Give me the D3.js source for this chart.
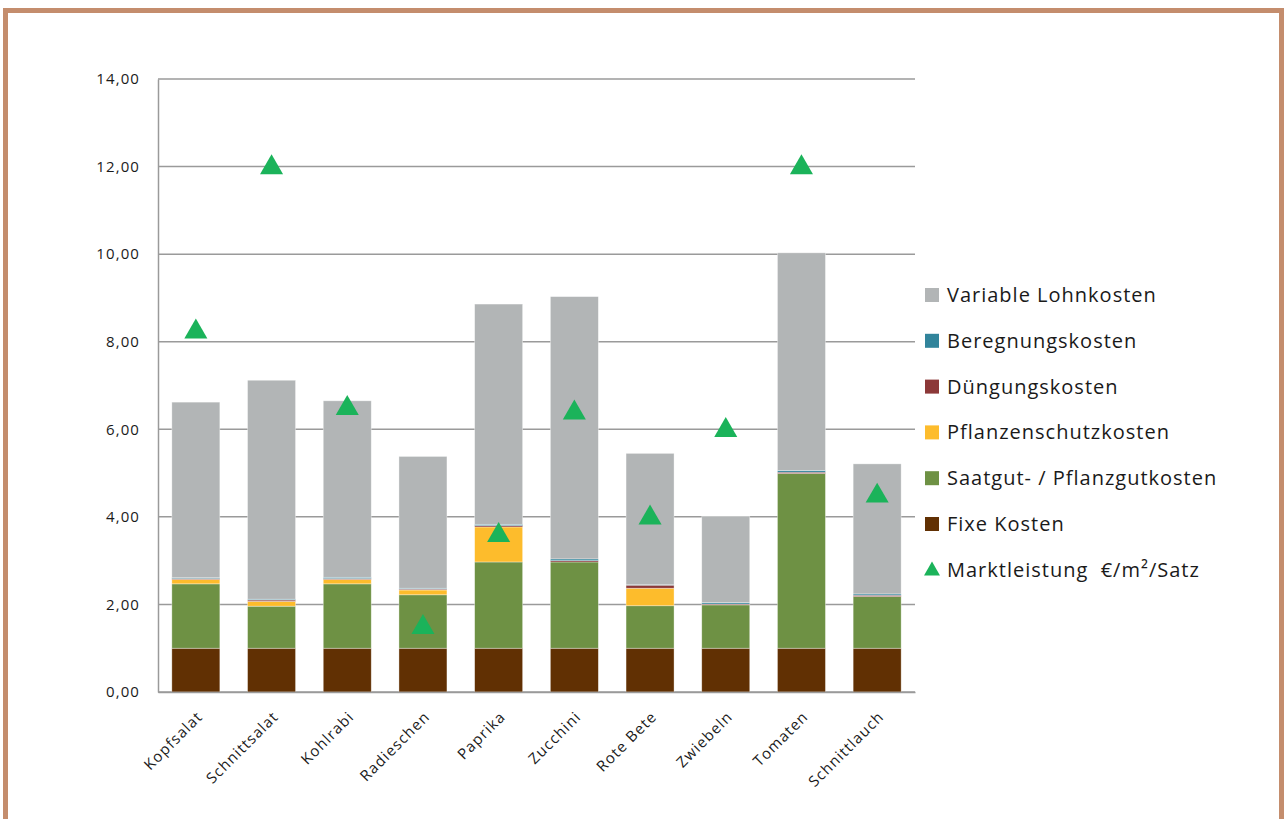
<!DOCTYPE html>
<html>
<head>
<meta charset="utf-8">
<script src="https://cdn.jsdelivr.net/npm/d3@7"></script>
<style>
  body { margin: 0; background: #fff; }
  text { font-family: "Open Sans", sans-serif; fill: #1a1a1a; }
</style>
</head>
<body>
<script>
'use strict';

var categories = ["Kopfsalat", "Schnittsalat", "Kohlrabi", "Radieschen", "Paprika",
    "Zucchini", "Rote Bete", "Zwiebeln", "Tomaten", "Schnittlauch"];

var fixeKosten      = [1.00, 1.00, 1.00, 1.00, 1.00, 1.00, 1.00, 1.00, 1.00, 1.00];
var saatgutKosten   = [1.47, 0.96, 1.47, 1.22, 1.97, 1.97, 0.97, 0.99, 3.99, 1.18];
var schutzKosten    = [0.10, 0.11, 0.10, 0.11, 0.80, 0.00, 0.40, 0.00, 0.00, 0.00];
var duengungKosten  = [0.02, 0.03, 0.02, 0.02, 0.03, 0.03, 0.07, 0.02, 0.03, 0.03];
var beregnungKosten = [0.02, 0.02, 0.03, 0.02, 0.03, 0.04, 0.01, 0.03, 0.04, 0.03];
var lohnKosten      = [4.01, 5.00, 4.03, 3.01, 5.03, 5.99, 3.00, 1.97, 4.97, 2.97];
var marktleistung   = [8.25, 12.0, 6.50, 1.50, 3.60, 6.40, 4.00, 6.00, 12.0, 4.50];

var yTicks = [0, 2, 4, 6, 8, 10, 12, 14];

// stack order bottom -> top
var series = [
    { name: "Fixe Kosten", values: fixeKosten, color: "#613003" },
    { name: "Saatgut- / Pflanzgutkosten", values: saatgutKosten, color: "#6e9144" },
    { name: "Pflanzenschutzkosten", values: schutzKosten, color: "#fdbc2c" },
    { name: "Düngungskosten", values: duengungKosten, color: "#8c3838" },
    { name: "Beregnungskosten", values: beregnungKosten, color: "#31849b" },
    { name: "Variable Lohnkosten", values: lohnKosten, color: "#b2b5b6" }
];
var marktName = "Marktleistung  €/m²/Satz";
var marktColor = "#1bb35a";

var width = 1285, height = 819;
var plot = { left: 158, right: 915, top: 79, bottom: 692 };

var svg = d3.select("body").append("svg")
    .attr("width", width)
    .attr("height", height);

// frame
svg.append("rect")
    .attr("x", 5.5).attr("y", 10.5)
    .attr("width", 1276).attr("height", 830)
    .attr("fill", "none")
    .attr("stroke", "#c48d6d")
    .attr("stroke-width", 5);

var de = d3.formatLocale({ decimal: ",", thousands: ".", grouping: [3], currency: ["", "€"] });
var fmt = de.format(".2f");

var x = d3.scaleBand()
    .domain(categories)
    .range([plot.left, plot.right])
    .paddingInner(0.366)
    .paddingOuter(0.183);

var y = d3.scaleLinear()
    .domain([0, 14])
    .range([plot.bottom, plot.top]);

// gridlines
svg.append("g")
    .selectAll("line")
    .data(yTicks)
    .join("line")
    .attr("x1", plot.left).attr("x2", plot.right)
    .attr("y1", d => y(d)).attr("y2", d => y(d))
    .attr("stroke", "#9a9a9a")
    .attr("stroke-width", 1.5);

var yAxis = d3.axisLeft(y)
    .tickValues(yTicks)
    .tickSize(0)
    .tickPadding(18)
    .tickFormat(fmt);

var yAxisGroup = svg.append("g")
    .attr("transform", "translate(" + plot.left + ",0)")
    .call(yAxis);
yAxisGroup.select(".domain").attr("stroke", "#9a9a9a").attr("stroke-width", 1.5);
yAxisGroup.selectAll("text")
    .style("font-family", "'Open Sans', sans-serif")
    .style("font-size", "15px")
    .style("letter-spacing", "1.1px")
    .attr("fill", "#1a1a1a");

// stacked bars
var rows = categories.map(function (c, i) {
    var r = { cat: c };
    series.forEach(function (s) { r[s.name] = s.values[i]; });
    return r;
});
var stack = d3.stack().keys(series.map(s => s.name));
var stacked = stack(rows);

svg.append("g")
    .selectAll("g")
    .data(stacked)
    .join("g")
    .attr("fill", (d, i) => series[i].color)
    .selectAll("rect")
    .data(d => d)
    .join("rect")
    .attr("x", d => x(d.data.cat))
    .attr("width", x.bandwidth())
    .attr("y", d => y(d[1]))
    .attr("height", d => Math.max(0, y(d[0]) - y(d[1])))
    .attr("stroke", "rgba(255,255,255,0.5)")
    .attr("stroke-width", 0.7);

// x axis
var xAxis = d3.axisBottom(x).tickSize(0).tickPadding(0);
var xAxisGroup = svg.append("g")
    .attr("transform", "translate(0," + plot.bottom + ")")
    .call(xAxis);
xAxisGroup.select(".domain").attr("stroke", "#9a9a9a").attr("stroke-width", 1.5);
xAxisGroup.selectAll("text")
    .style("font-family", "'Open Sans', sans-serif")
    .style("font-size", "15px")
    .style("letter-spacing", "1.1px")
    .attr("fill", "#1a1a1a")
    .attr("text-anchor", "end")
    .attr("dy", "0.35em")
    .attr("transform", "translate(4,22) rotate(-45)");

// markers
var tri = d3.symbol().type(d3.symbolTriangle).size(230);
svg.append("g")
    .selectAll("path")
    .data(marktleistung)
    .join("path")
    .attr("d", tri)
    .attr("transform", (d, i) => "translate(" + (x(categories[i]) + x.bandwidth() / 2) + "," + (y(d) + 1) + ")")
    .attr("fill", marktColor);

// legend
var legendItems = series.slice().reverse().map(s => ({ name: s.name, color: s.color, type: "rect" }));
legendItems.push({ name: marktName, color: marktColor, type: "tri" });

var legend = svg.append("g")
    .attr("transform", "translate(925,295)");

var li = legend.selectAll("g")
    .data(legendItems)
    .join("g")
    .attr("transform", (d, i) => "translate(0," + (i * 45.8) + ")");

li.filter(d => d.type === "rect")
    .append("rect")
    .attr("x", 0).attr("y", -7)
    .attr("width", 14).attr("height", 14)
    .attr("fill", d => d.color);

li.filter(d => d.type === "tri")
    .append("path")
    .attr("d", d3.symbol().type(d3.symbolTriangle).size(110))
    .attr("transform", "translate(7,1)")
    .attr("fill", d => d.color);

li.append("text")
    .attr("x", 22)
    .attr("dy", "0.35em")
    .style("font-size", "20px")
    .style("letter-spacing", "1px")
    .style("white-space", "pre")
    .text(d => d.name);
</script>
</body>
</html>
